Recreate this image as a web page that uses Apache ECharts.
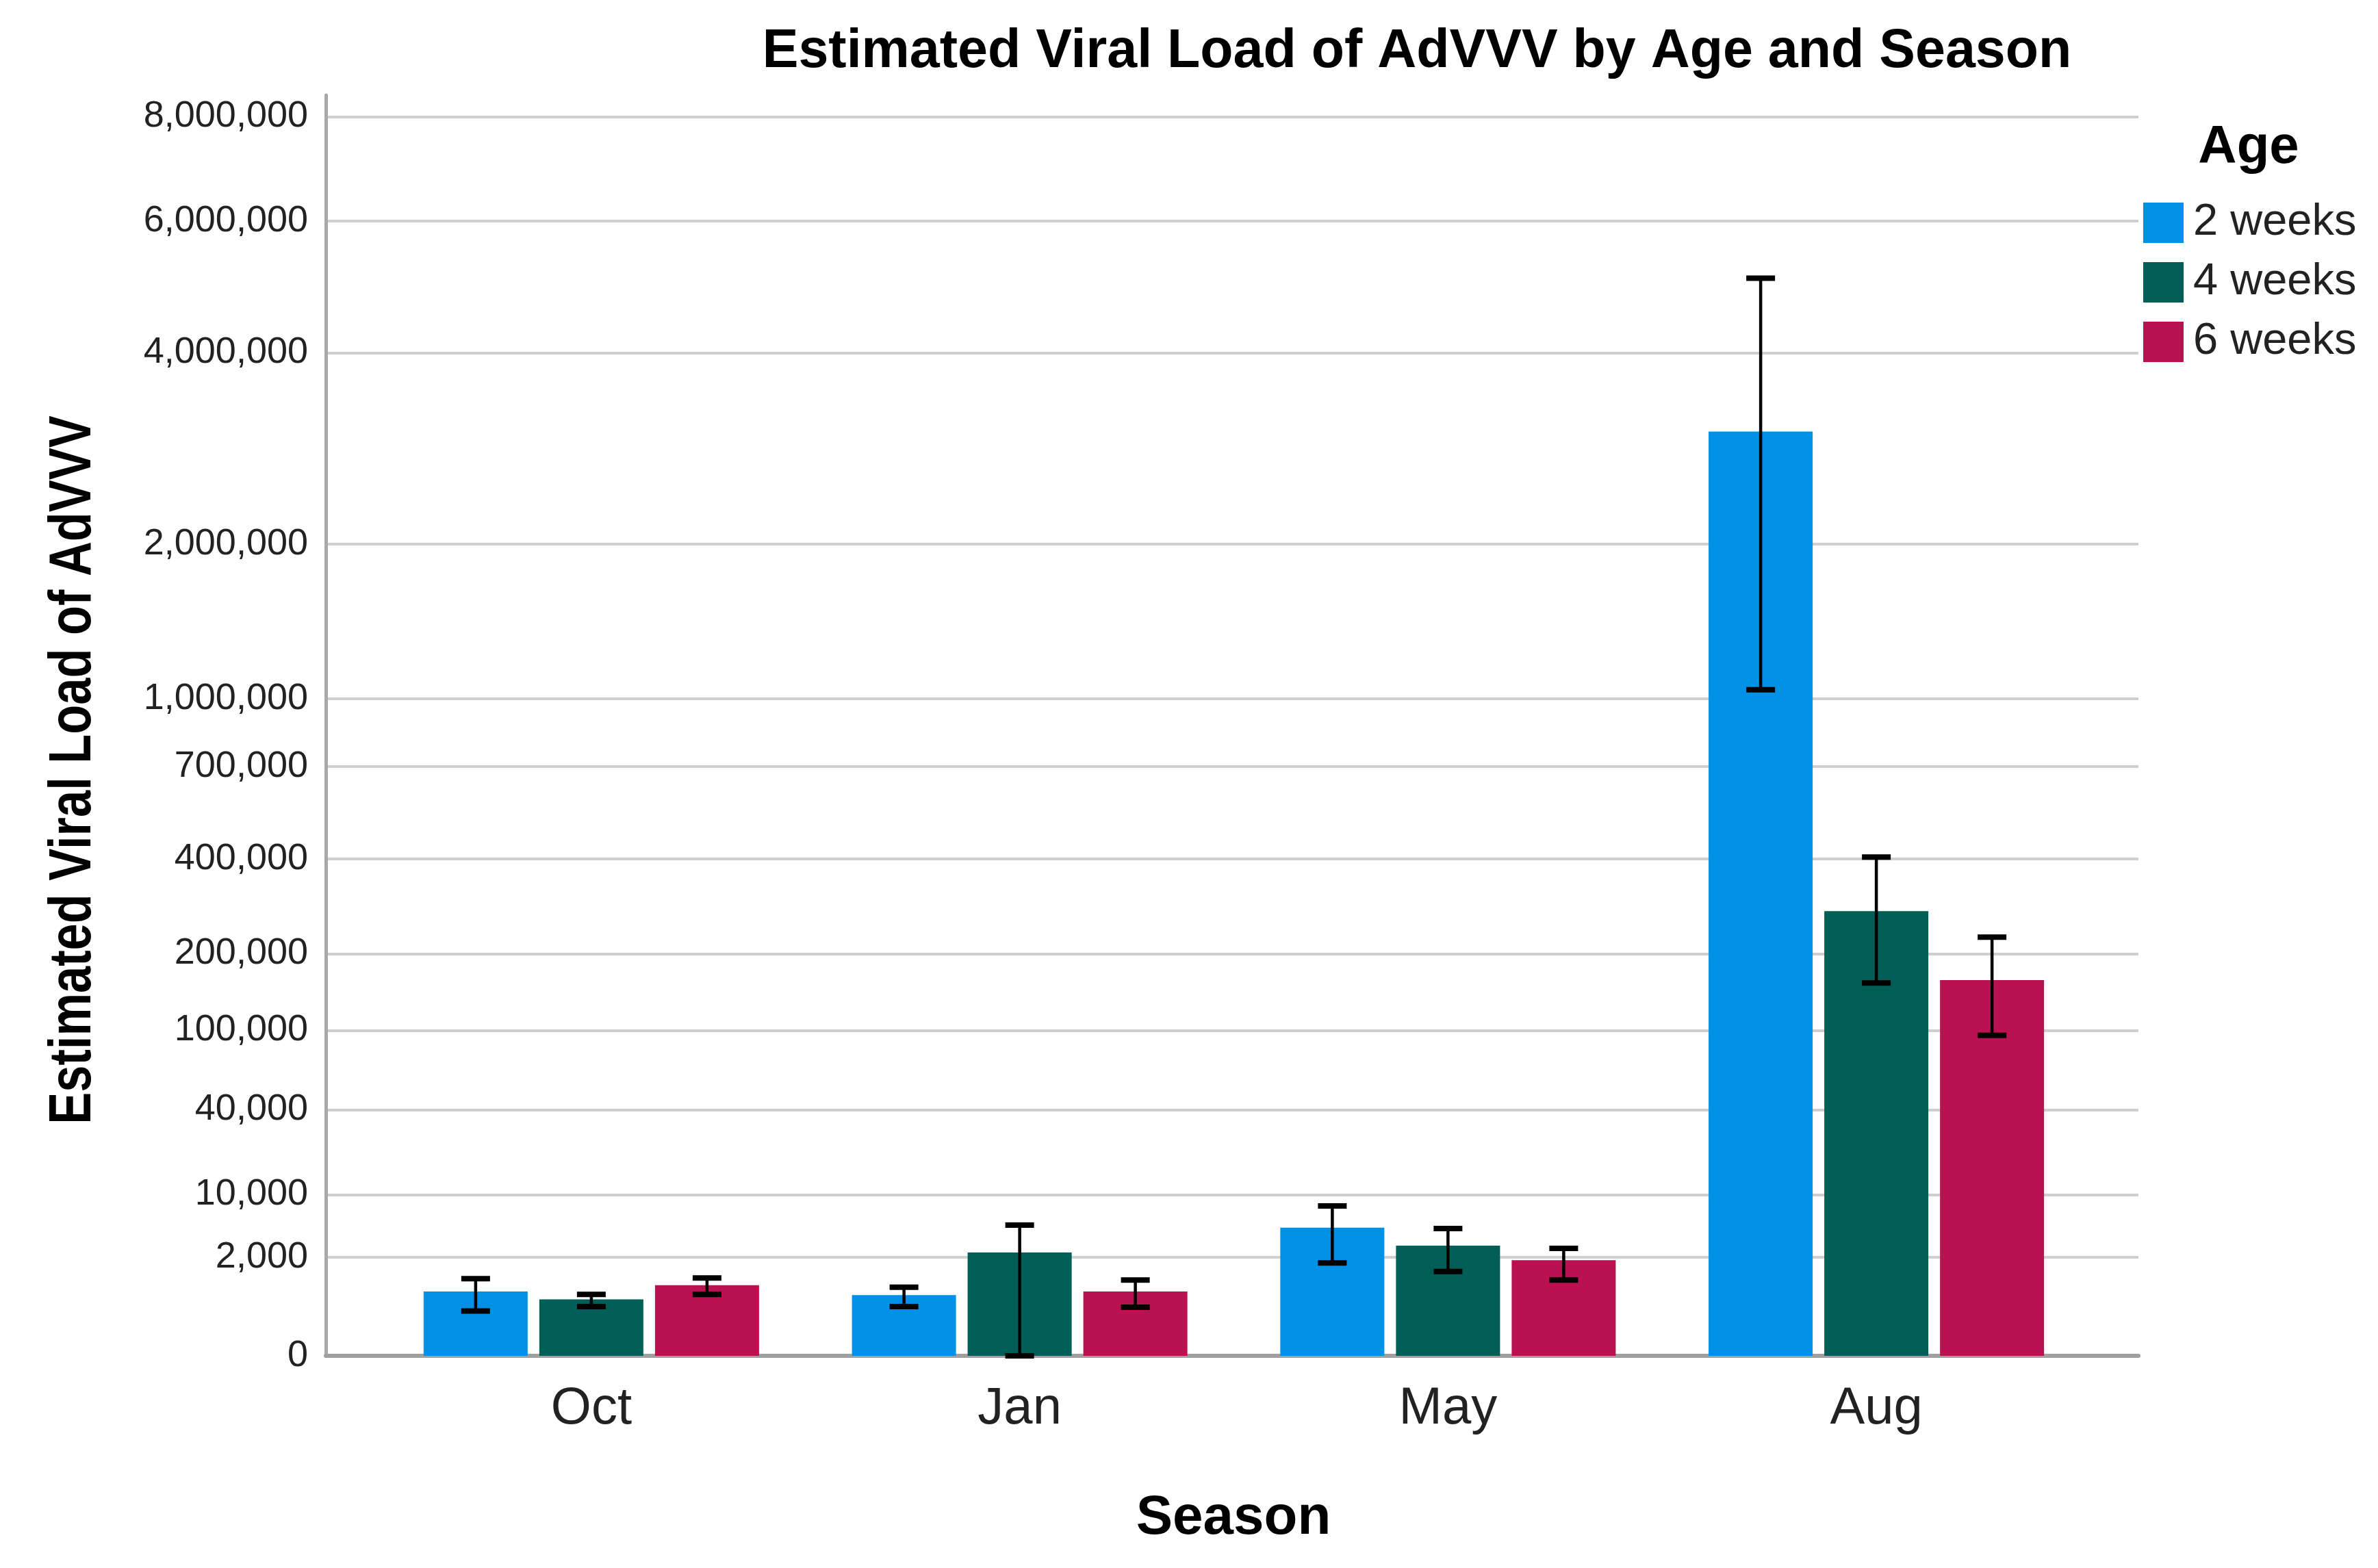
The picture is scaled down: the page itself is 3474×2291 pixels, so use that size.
<!DOCTYPE html>
<html><head><meta charset="utf-8">
<script src="https://cdn.jsdelivr.net/npm/echarts@6/dist/echarts.min.js"></script>
<style>html,body{margin:0;padding:0;background:#fff}#c{width:3474px;height:2291px}</style>
</head><body><div id="c"></div>
<script>
// ---- data ----
const seasons = ['Oct', 'Jan', 'May', 'Aug'];
const ages = ['2 weeks', '4 weeks', '6 weeks'];
const mean2w = [490, 405, 4700, 3060000];
const mean4w = [320, 2320, 2870, 278000];
const mean6w = [670, 490, 1800, 160000];
const low2w = [150, 205, 1640, 1045000];
const low4w = [205, 0, 1190, 156000];
const low6w = [420, 195, 840, 95000];
const high2w = [890, 605, 7860, 5060000];
const high4w = [420, 5020, 4600, 405000];
const high6w = [920, 840, 2640, 228000];
const yTicks = [0, 2000, 10000, 40000, 100000, 200000, 400000, 700000, 1000000, 2000000, 4000000, 6000000, 8000000];

// ---- power scale (SPSS power axis) ----
const P = 0.305;
const fwd = v => Math.pow(Math.max(v, 0), P);
const T_MAX = 129.7;

const colors = ['#0091E6', '#005E59', '#BA1151'];
const means = [mean2w, mean4w, mean6w];
const lows = [low2w, low4w, low6w];
const highs = [high2w, high4w, high6w];

const BAR_W = 152, BAR_GAP = 17, STEP = BAR_W + BAR_GAP;
const SANS = '"Liberation Sans", Arial, sans-serif';

const tickT = yTicks.map(fwd);
function fmtTick(t) {
  let best = 0, bd = Infinity;
  tickT.forEach((v, i) => { const d = Math.abs(v - t); if (d < bd) { bd = d; best = i; } });
  return yTicks[best].toLocaleString('en-US');
}

const series = [];
ages.forEach((a, i) => {
  series.push({
    name: a, type: 'bar', xAxisIndex: 1, yAxisIndex: 1,
    barWidth: BAR_W, barGap: (BAR_GAP / BAR_W * 100).toFixed(1) + '%',
    itemStyle: { color: colors[i] },
    data: means[i].map(fwd)
  });
});
ages.forEach((a, i) => {
  series.push({
    type: 'custom', xAxisIndex: 1, yAxisIndex: 1, z: 10, silent: true,
    data: seasons.map((s, k) => [k, fwd(lows[i][k]), fwd(highs[i][k])]),
    renderItem: (params, api) => {
      const c = api.value(0);
      const lo = api.coord([c, api.value(1)]);
      const hi = api.coord([c, api.value(2)]);
      const x = lo[0] + (i - 1) * STEP;
      const h = 21;
      return { type: 'group', children: [
        { type: 'line', shape: { x1: x, y1: hi[1], x2: x, y2: lo[1] }, style: { stroke: '#000', lineWidth: 4.5 } },
        { type: 'line', shape: { x1: x - h, y1: hi[1], x2: x + h, y2: hi[1] }, style: { stroke: '#000', lineWidth: 8 } },
        { type: 'line', shape: { x1: x - h, y1: lo[1], x2: x + h, y2: lo[1] }, style: { stroke: '#000', lineWidth: 8 } }
      ]};
    }
  });
});

const chart = echarts.init(document.getElementById('c'));
chart.setOption({
  animation: false,
  backgroundColor: '#fff',
  grid: [
    { left: 476, right: 350, top: 139, bottom: 310 },
    { left: 551, right: 420, top: 139, bottom: 310 }
  ],
  xAxis: [
    { type: 'value', gridIndex: 0, min: 0, max: 1, axisLabel: { show: false }, axisTick: { show: false },
      splitLine: { show: false }, axisLine: { show: true, lineStyle: { color: '#A0A0A0', width: 6 } } },
    { type: 'category', gridIndex: 1, data: seasons, axisLine: { show: false }, axisTick: { show: false },
      axisLabel: { margin: 40, fontSize: 76, fontFamily: SANS, color: '#222' } }
  ],
  yAxis: [
    { type: 'value', gridIndex: 0, min: 0, max: T_MAX,
      axisLine: { show: true, lineStyle: { color: '#A8A8A8', width: 5 } },
      axisTick: { show: false, customValues: tickT },
      axisLabel: { customValues: tickT, formatter: fmtTick, margin: 26, fontSize: 54, fontFamily: SANS, color: '#222', padding: [14, 0, 0, 0] },
      splitLine: { show: true, lineStyle: { color: '#CFCFCF', width: 4 } } },
    { type: 'value', gridIndex: 1, min: 0, max: T_MAX, show: false, splitLine: { show: false } }
  ],
  legend: {
    data: ages, orient: 'vertical', left: 3126, top: 288, icon: 'rect',
    itemWidth: 59, itemHeight: 59, itemGap: 22,
    textStyle: { fontSize: 65, fontFamily: SANS, color: '#222', lineHeight: 59, padding: [6, 0, 0, 9] }
  },
  graphic: [
    { type: 'text', x: 2070, y: 76, style: { text: 'Estimated Viral Load of AdVVV by Age and Season', fontSize: 79, fontWeight: 'bold', fontFamily: SANS, fill: '#000', align: 'center', verticalAlign: 'middle' } },
    { type: 'text', x: 3285, y: 216, style: { text: 'Age', fontSize: 78, fontWeight: 'bold', fontFamily: SANS, fill: '#000', align: 'center', verticalAlign: 'middle' } },
    { type: 'text', x: 108, y: 1125, rotation: Math.PI / 2, scaleX: 0.8, style: { text: 'Estimated Viral Load of AdVVV', fontSize: 88, fontWeight: 'bold', fontFamily: SANS, fill: '#000', align: 'center', verticalAlign: 'middle' } },
    { type: 'text', x: 1802, y: 2219, style: { text: 'Season', fontSize: 80, fontWeight: 'bold', fontFamily: SANS, fill: '#000', align: 'center', verticalAlign: 'middle' } }
  ],
  series: series
});
</script></body></html>
